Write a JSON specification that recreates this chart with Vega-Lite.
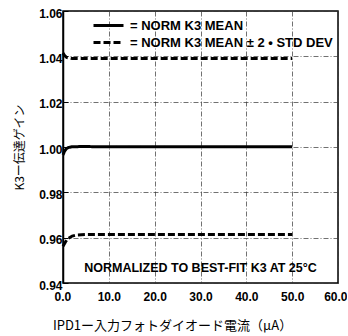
{
  "$schema": "https://vega.github.io/schema/vega-lite/v6.json",
  "width": 275,
  "height": 272,
  "padding": {"left": 13, "top": 7, "right": 0, "bottom": 4},
  "background": "white",
  "config": {
    "font": "Liberation Sans",
    "view": {"stroke": "black", "strokeWidth": 1.5}
  },
  "layer": [
    {
      "data": {
        "values": [
          {"x": 0, "y": 0.9965, "series": "mean", "type": "mean"},
          {"x": 0.3, "y": 0.998, "series": "mean", "type": "mean"},
          {"x": 0.7, "y": 0.9992, "series": "mean", "type": "mean"},
          {"x": 1.2, "y": 0.9998, "series": "mean", "type": "mean"},
          {"x": 2, "y": 1.0001, "series": "mean", "type": "mean"},
          {"x": 4, "y": 1.0002, "series": "mean", "type": "mean"},
          {"x": 10, "y": 1.0001, "series": "mean", "type": "mean"},
          {"x": 50, "y": 1.0001, "series": "mean", "type": "mean"},
          {"x": 0, "y": 1.0415, "series": "upper", "type": "sd"},
          {"x": 0.3, "y": 1.0405, "series": "upper", "type": "sd"},
          {"x": 0.8, "y": 1.0395, "series": "upper", "type": "sd"},
          {"x": 2, "y": 1.039, "series": "upper", "type": "sd"},
          {"x": 10, "y": 1.039, "series": "upper", "type": "sd"},
          {"x": 50, "y": 1.039, "series": "upper", "type": "sd"},
          {"x": 0, "y": 0.9562, "series": "lower", "type": "sd"},
          {"x": 0.5, "y": 0.958, "series": "lower", "type": "sd"},
          {"x": 1, "y": 0.9595, "series": "lower", "type": "sd"},
          {"x": 2, "y": 0.9607, "series": "lower", "type": "sd"},
          {"x": 3, "y": 0.9612, "series": "lower", "type": "sd"},
          {"x": 5, "y": 0.9614, "series": "lower", "type": "sd"},
          {"x": 50, "y": 0.9614, "series": "lower", "type": "sd"}
        ]
      },
      "mark": {"type": "line", "color": "black", "strokeWidth": 3},
      "encoding": {
        "x": {
          "field": "x", "type": "quantitative",
          "scale": {"domain": [0, 60], "nice": false},
          "axis": {
            "values": [0, 5, 10, 15, 20, 25, 30, 35, 40, 45, 50, 55, 60],
            "labelExpr": "datum.value % 10 == 0 ? format(datum.value, '.1f') : ''",
            "labelOverlap": false,
            "ticks": false,
            "domain": false,
            "grid": true,
            "gridColor": "#333",
            "gridDash": [5, 2, 1, 2],
            "gridWidth": 0.7,
            "labelFont": "Liberation Sans",
            "labelFontWeight": "bold",
            "labelFontSize": 12,
            "labelColor": "black",
            "labelFlush": true,
            "labelFlushOffset": 9,
            "labelPadding": 8,
            "title": "IPD1ー入力フォトダイオード電流（μA）",
            "titleFont": "Noto Sans CJK JP",
            "titleFontWeight": "normal",
            "titleFontSize": 13,
            "titleColor": "black",
            "titleAlign": "center",
            "titleBaseline": "middle",
            "titleX": 109,
            "titleY": 42
          }
        },
        "y": {
          "field": "y", "type": "quantitative",
          "scale": {"domain": [0.94, 1.06], "nice": false, "zero": false},
          "axis": {
            "values": [0.94, 0.96, 0.98, 1.0, 1.02, 1.04, 1.06],
            "format": ".2f",
            "labelOverlap": false,
            "tickSize": -5,
            "tickColor": "black",
            "tickWidth": 1,
            "domain": true,
            "domainColor": "black",
            "domainWidth": 1.5,
            "grid": true,
            "gridColor": "#333",
            "gridDash": [5, 2, 1, 2],
            "gridWidth": 0.7,
            "labelFont": "Liberation Sans",
            "labelFontWeight": "bold",
            "labelFontSize": 12,
            "labelColor": "black",
            "labelFlush": false,
            "labelOffset": 2,
            "labelPadding": 6,
            "title": "K3ー伝達ゲイン",
            "titleFont": "Noto Sans CJK JP",
            "titleFontWeight": "normal",
            "titleFontSize": 12,
            "titleColor": "black",
            "titlePadding": 12
          }
        },
        "detail": {"field": "series"},
        "strokeDash": {
          "field": "type", "type": "nominal",
          "scale": {"domain": ["mean", "sd"], "range": [[1, 0], [7, 3]]},
          "legend": {
            "orient": "none",
            "legendX": 39,
            "legendY": 8,
            "padding": 0,
            "title": null,
            "symbolType": "M-3,0H3",
            "symbolSize": 100,
            "symbolStrokeWidth": 3,
            "symbolStrokeColor": "black",
            "labelExpr": "datum.value == 'mean' ? '= NORM K3 MEAN' : '= NORM K3 MEAN ± 2 • STD DEV'",
            "labelFont": "Liberation Sans",
            "labelFontWeight": "bold",
            "labelFontSize": 13,
            "labelColor": "black",
            "labelLimit": 300,
            "rowPadding": 3,
            "labelOffset": 15
          }
        }
      }
    },
    {
      "data": {"values": [{"note": "NORMALIZED TO BEST-FIT K3 AT 25°C"}]},
      "mark": {"type": "text", "font": "Liberation Sans", "fontWeight": "bold", "fontSize": 12.5, "color": "black", "align": "center", "baseline": "middle"},
      "encoding": {
        "x": {"datum": 30},
        "y": {"datum": 0.9468},
        "text": {"field": "note"}
      }
    }
  ]
}
